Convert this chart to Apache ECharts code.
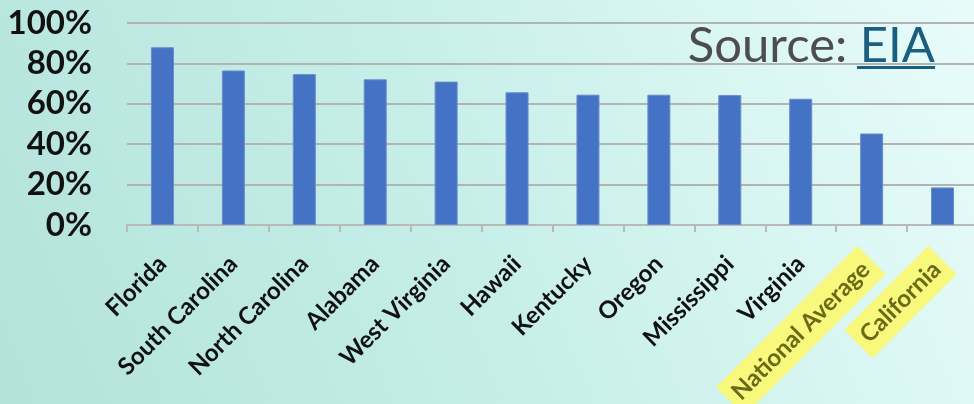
<!DOCTYPE html>
<html>
<head>
<meta charset="utf-8">
<script src="https://cdn.jsdelivr.net/npm/echarts@6/dist/echarts.min.js"></script>
<style>
html,body{margin:0;padding:0;}
#chart{width:974px;height:404px;}
</style>
</head>
<body>
<div id="chart"></div>
<script>
var categories = ['Florida','South Carolina','North Carolina','Alabama','West Virginia','Hawaii','Kentucky','Oregon','Mississippi','Virginia','National Average','California'];
var values = [88, 76.5, 74.7, 72.1, 71, 65.7, 64.5, 64.5, 64.3, 62.5, 45.3, 18.6];
var highlighted = ['National Average','California'];
var yTicks = [0, 20, 40, 60, 80, 100];

var chart = echarts.init(document.getElementById('chart'));
chart.setOption({
  backgroundColor: new echarts.graphic.LinearGradient(0, 1, 1, 0, [
    {offset: 0, color: '#b3e3da'},
    {offset: 0.45, color: '#c5eee8'},
    {offset: 1, color: '#e8fcfa'}
  ]),
  animation: false,
  grid: {left: 127, right: -4, top: 23, bottom: 179, containLabel: false, outerBoundsMode: 'none'},
  xAxis: {
    type: 'category',
    data: categories,
    axisLine: {lineStyle: {color: '#b9b9b9', width: 2}},
    axisTick: {show: true, length: 7, lineStyle: {color: '#b9b9b9', width: 2}},
    axisLabel: {
      rotate: 45,
      interval: 0,
      margin: 35,
      fontFamily: 'Lato',
      fontWeight: 'bold',
      fontSize: 24,
      color: '#111',
      formatter: function (v) {
        return highlighted.indexOf(v) >= 0 ? '{h|' + v + '}' : v;
      },
      rich: {
        h: {
          fontFamily: 'Lato', fontWeight: 'bold', fontSize: 24,
          color: '#6a6a18', backgroundColor: '#f8f87c',
          padding: [8, 8, 8, 8]
        }
      }
    }
  },
  yAxis: {
    type: 'value',
    min: 0, max: 100, interval: 20,
    axisLine: {show: false},
    axisTick: {show: false},
    splitLine: {lineStyle: {color: '#b3b3b3', width: 2}},
    axisLabel: {
      margin: 35,
      fontFamily: 'Lato',
      fontWeight: 'bold',
      fontSize: 33,
      color: '#111',
      formatter: function (v) { return yTicks.indexOf(v) >= 0 ? v + '%' : ''; }
    }
  },
  series: [{
    type: 'bar',
    data: values,
    barWidth: 23,
    itemStyle: {color: '#4472c4', borderColor: '#6a8ccc', borderWidth: 1}
  }],
  graphic: [
    {
      type: 'text', right: 39, top: 22, z: 10,
      style: {
        text: '{a|Source: }{b|EIA}',
        fill: '#4d4d4d',
        rich: {
          a: {fontFamily: 'Lato', fontSize: 49, fill: '#4d4d4d'},
          b: {fontFamily: 'Lato', fontSize: 49, fill: '#1b5f80'}
        }
      }
    },
    {
      type: 'rect', z: 10,
      shape: {x: 857, y: 66, width: 78, height: 3},
      style: {fill: '#1b5f80'}
    }
  ]
});
</script>
</body>
</html>
